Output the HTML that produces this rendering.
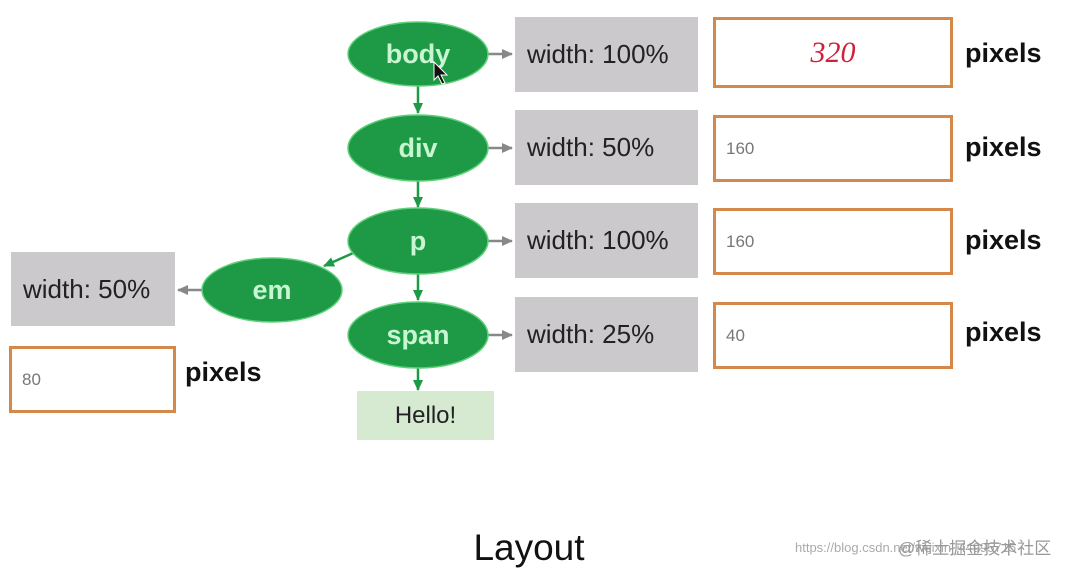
<!DOCTYPE html>
<html><head><meta charset="utf-8"><style>
body{margin:0;width:1076px;height:572px;background:#fff;overflow:hidden;position:relative;font-family:"Liberation Sans",Arial,sans-serif}
.g{position:absolute;background:#cbc9cb;color:#222;font-size:26px;display:flex;align-items:center;padding-left:12px;box-sizing:border-box}
.o{position:absolute;border:3px solid #d4894a;background:#fff;box-sizing:border-box;font-size:17px;color:#777;display:flex;align-items:center;padding-left:10px}
.px{position:absolute;font-weight:bold;font-size:27px;color:#111}
.t{position:absolute;font-size:13px;color:#aaa}
</style></head><body>
<svg width="1076" height="572" style="position:absolute;left:0;top:0">
<defs>
<marker id="ag" markerUnits="userSpaceOnUse" markerWidth="12" markerHeight="12" refX="10" refY="6" orient="auto"><path d="M0,1L11,6L0,11z" fill="#1e9a46"/></marker>
<marker id="ar" markerUnits="userSpaceOnUse" markerWidth="12" markerHeight="12" refX="10" refY="6" orient="auto"><path d="M0,1L11,6L0,11z" fill="#888"/></marker>
</defs>
<g stroke="#888" stroke-width="2.5" marker-end="url(#ar)">
<line x1="488" y1="54" x2="512" y2="54"/><line x1="488" y1="148" x2="512" y2="148"/>
<line x1="488" y1="241" x2="512" y2="241"/><line x1="488" y1="335" x2="512" y2="335"/>
<line x1="202" y1="290" x2="178" y2="290"/></g>
<g stroke="#1e9a46" stroke-width="2.5" marker-end="url(#ag)">
<line x1="418" y1="86" x2="418" y2="113"/><line x1="418" y1="180" x2="418" y2="207"/>
<line x1="418" y1="273" x2="418" y2="300"/><line x1="418" y1="367" x2="418" y2="390"/>
<line x1="360" y1="250" x2="324" y2="266"/></g>
<g fill="#1e9a46" stroke="#5fd07a" stroke-width="1.5">
<ellipse cx="418" cy="54" rx="70" ry="32"/><ellipse cx="418" cy="148" rx="70" ry="33"/>
<ellipse cx="418" cy="241" rx="70" ry="33"/><ellipse cx="418" cy="335" rx="70" ry="33"/>
<ellipse cx="272" cy="290" rx="70" ry="32"/></g>
<g fill="#c8f5d2" font-family="Liberation Sans,Arial,sans-serif" font-size="27" font-weight="bold" text-anchor="middle">
<text x="418" y="63">body</text><text x="418" y="157">div</text><text x="418" y="250">p</text>
<text x="418" y="344">span</text><text x="272" y="299">em</text></g>
<path d="M434,62l0,18l4,-4l4,8l3,-1l-4,-8l6,0z" fill="#111" stroke="#fff" stroke-width="1"/>
</svg>
<div class="g" style="left:515px;top:17px;width:183px;height:75px">width: 100%</div>
<div class="g" style="left:515px;top:110px;width:183px;height:75px">width: 50%</div>
<div class="g" style="left:515px;top:203px;width:183px;height:75px">width: 100%</div>
<div class="g" style="left:515px;top:297px;width:183px;height:75px">width: 25%</div>
<div class="g" style="left:11px;top:252px;width:164px;height:74px">width: 50%</div>
<div class="o" style="left:713px;top:17px;width:240px;height:71px;justify-content:center;padding:0;color:#d0203a;font-size:30px;font-family:'Liberation Serif',serif;font-style:italic">320</div>
<div class="o" style="left:713px;top:115px;width:240px;height:67px">160</div>
<div class="o" style="left:713px;top:208px;width:240px;height:67px">160</div>
<div class="o" style="left:713px;top:302px;width:240px;height:67px">40</div>
<div class="o" style="left:9px;top:346px;width:167px;height:67px">80</div>
<div class="px" style="left:965px;top:38px">pixels</div>
<div class="px" style="left:965px;top:132px">pixels</div>
<div class="px" style="left:965px;top:225px">pixels</div>
<div class="px" style="left:965px;top:317px">pixels</div>
<div class="px" style="left:185px;top:357px">pixels</div>
<div style="position:absolute;left:357px;top:391px;width:137px;height:49px;background:#d6ead2;font-size:24px;color:#222;display:flex;align-items:center;justify-content:center">Hello!</div>
<div style="position:absolute;left:0;width:1058px;top:527px;text-align:center;font-size:37px;color:#111">Layout</div>
<div class="t" style="left:795px;top:540px">https://blog.csdn.net/weixin_44995715</div>
<div style="position:absolute;left:898px;top:534px;font-size:17px;color:#999;font-family:'Liberation Sans','Noto Sans CJK SC',sans-serif">@稀土掘金技术社区</div>
</body></html>
